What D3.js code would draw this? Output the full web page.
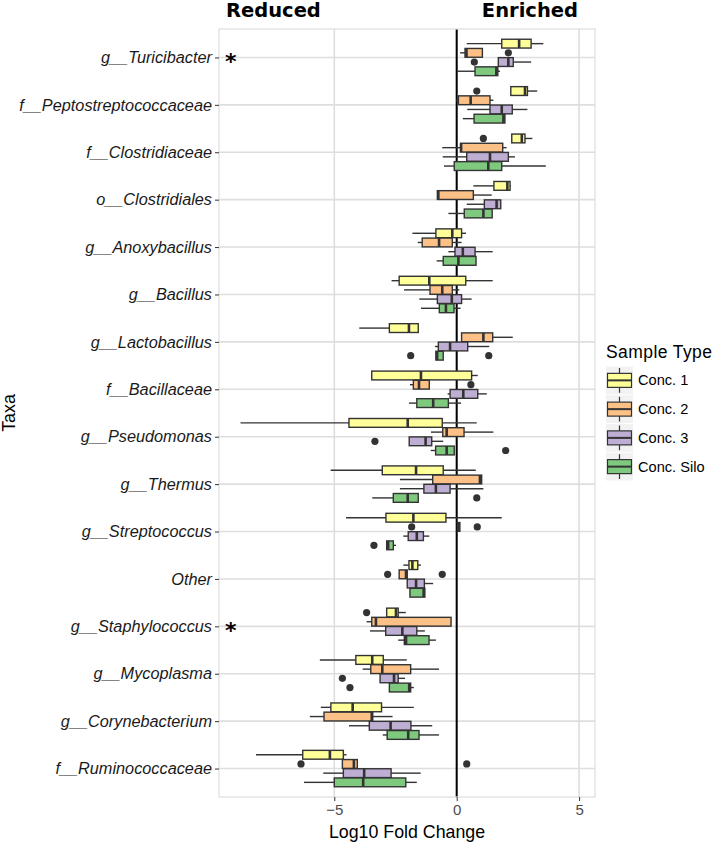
<!DOCTYPE html>
<html>
<head>
<meta charset="utf-8">
<script src="https://cdn.jsdelivr.net/npm/d3@7"></script>
<style>
  html, body { margin: 0; padding: 0; background: #fff; }
  svg { display: block; }
</style>
</head>
<body>
<div id="chart"></div>
<script>
const categories = [
  "g__Turicibacter", "f__Peptostreptococcaceae", "f__Clostridiaceae", "o__Clostridiales",
  "g__Anoxybacillus", "g__Bacillus", "g__Lactobacillus", "f__Bacillaceae",
  "g__Pseudomonas", "g__Thermus", "g__Streptococcus", "Other",
  "g__Staphylococcus", "g__Mycoplasma", "g__Corynebacterium", "f__Ruminococcaceae"
];
const significant = ["g__Turicibacter", "g__Staphylococcus"];
const seriesNames = ["Conc. 1", "Conc. 2", "Conc. 3", "Conc. Silo"];
const seriesColors = ["#FFFF99", "#FDC086", "#BEAED4", "#7FC97F"];
const xTicks = [-5, 0, 5];

// [lower whisker, Q1, median, Q3, upper whisker] per category
const conc1Stats = [
  [0.41, 1.84, 2.55, 3.04, 3.54], [2.21, 2.21, 2.79, 2.89, 3.29], [2.25, 2.25, 2.66, 2.79, 3.09],
  [0.68, 1.52, 2.07, 2.18, 2.22], [-1.81, -0.85, -0.18, 0.20, 0.38], [-2.66, -2.35, -1.12, 0.37, 1.47],
  [-3.98, -2.75, -1.95, -1.57, -1.57], [-3.47, -3.47, -1.46, 0.61, 0.86], [-8.83, -4.40, -2.00, -0.59, 0.82],
  [-5.15, -3.04, -1.66, -0.55, 0.78], [-4.52, -2.89, -1.77, -0.44, 1.84], [-2.18, -1.95, -1.81, -1.59, -1.46],
  [-2.86, -2.86, -2.48, -2.39, -2.08], [-5.59, -4.12, -3.45, -3.00, -2.04], [-5.55, -5.14, -4.25, -3.07, -1.75],
  [-8.20, -6.29, -5.18, -4.63, -4.50]
];
const conc2Stats = [
  [0.14, 0.34, 0.40, 1.05, 1.05], [-0.03, 0.07, 0.57, 1.36, 1.50], [-0.59, 0.16, 0.18, 1.88, 2.04],
  [-0.79, -0.79, -0.75, 0.68, 1.43], [-1.59, -1.41, -0.72, -0.18, 0.20], [-2.15, -1.09, -0.59, -0.18, 0.11],
  [0.19, 0.20, 1.09, 1.47, 2.29], [-1.91, -1.77, -1.54, -1.12, -1.12], [-1.05, -0.57, -0.41, 0.30, 1.50],
  [-2.32, -0.98, 0.95, 1.02, 1.02], [0.03, 0.03, 0.08, 0.13, 0.13], [-2.35, -2.35, -2.07, -2.02, -2.02],
  [-3.68, -3.47, -3.30, -0.23, -0.23], [-3.84, -3.51, -3.04, -1.88, -0.72], [-6.00, -5.42, -3.47, -3.43, -2.62],
  [-4.67, -4.67, -4.20, -4.06, -4.06]
];
const conc3Stats = [
  [1.70, 1.70, 2.11, 2.31, 3.04], [0.43, 1.36, 1.84, 2.27, 2.89], [-0.57, 0.41, 1.36, 2.11, 2.38],
  [0.41, 1.13, 1.63, 1.80, 1.80], [-0.34, -0.07, 0.25, 0.75, 1.47], [-1.53, -0.79, -0.20, 0.20, 0.61],
  [-0.89, -0.75, -0.27, 0.45, 1.33], [-0.37, -0.27, 0.27, 0.86, 1.23], [-1.94, -1.94, -1.27, -1.02, -0.55],
  [-2.32, -1.34, -0.85, -0.27, 1.09], [-2.18, -1.98, -1.63, -1.36, -1.12], [-2.02, -2.02, -1.66, -1.32, -0.96],
  [-3.54, -2.90, -2.22, -1.63, -1.30], [-3.13, -3.13, -2.56, -2.39, -2.11], [-4.40, -3.57, -2.70, -1.87, -1.00],
  [-5.45, -4.63, -3.78, -2.68, -1.47]
];
const concSiloStats = [
  [0.02, 0.75, 1.62, 1.68, 1.77], [0.25, 0.71, 1.91, 1.97, 1.97], [-0.52, -0.10, 1.29, 1.84, 3.64],
  [-0.34, 0.31, 1.09, 1.45, 1.45], [-0.82, -0.55, 0.07, 0.79, 0.79], [-1.46, -0.71, -0.44, -0.11, 0.16],
  [-0.85, -0.85, -0.80, -0.55, -0.55], [-1.95, -1.63, -0.96, -0.34, 0.18], [-1.06, -0.86, -0.41, -0.10, -0.10],
  [-3.45, -2.59, -2.00, -1.57, -1.57], [-2.86, -2.86, -2.80, -2.59, -2.48], [-1.91, -1.91, -1.35, -1.30, -1.30],
  [-2.39, -2.14, -2.07, -1.13, -0.85], [-2.75, -2.75, -1.94, -1.88, -1.75], [-3.02, -2.84, -1.98, -1.54, -0.72],
  [-6.24, -5.00, -3.82, -2.08, -1.63]
];

// outliers: [category, value]
const conc1Outliers = [["f__Peptostreptococcaceae", 0.82], ["f__Clostridiaceae", 1.09], ["g__Staphylococcus", -3.68]];
const conc2Outliers = [["g__Turicibacter", 2.11], ["f__Bacillaceae", 0.58], ["g__Streptococcus", -1.84],
  ["g__Streptococcus", 0.84], ["Other", -2.82], ["Other", -0.59], ["f__Ruminococcaceae", -6.36], ["f__Ruminococcaceae", 0.41]];
const conc3Outliers = [["g__Turicibacter", 0.72], ["g__Pseudomonas", -3.34], ["g__Mycoplasma", -4.67]];
const concSiloOutliers = [["g__Lactobacillus", -1.88], ["g__Lactobacillus", 1.31], ["g__Pseudomonas", 2.00],
  ["g__Thermus", 0.82], ["g__Streptococcus", -3.38], ["g__Mycoplasma", -4.36]];

const allStats = [conc1Stats, conc2Stats, conc3Stats, concSiloStats];
const allOutliers = [conc1Outliers, conc2Outliers, conc3Outliers, concSiloOutliers];

const W = 714, H = 843;
const panel = { left: 219, right: 595, top: 29, bottom: 797 };
const font = "'Liberation Sans', Arial, Helvetica, sans-serif";
const gridCol = "#DEDEDE";
const darkCol = "#333333";

const svg = d3.select("#chart").append("svg").attr("width", W).attr("height", H)
  .style("font-family", font);

const x = d3.scaleLinear().domain([-9.71, 5.65]).range([panel.left, panel.right]);
const y = d3.scalePoint().domain(categories).range([panel.top, panel.bottom]).padding(0.6);
const dodge = d3.scaleBand().domain(seriesNames).range([-18.4, 18.4]).padding(0);
const boxH = 8.8;

// panel background / grid
svg.append("rect").attr("x", panel.left).attr("y", panel.top)
  .attr("width", panel.right - panel.left).attr("height", panel.bottom - panel.top)
  .attr("fill", "#fff");
const grid = svg.append("g");
grid.selectAll("line.h").data(categories).join("line")
  .attr("x1", panel.left).attr("x2", panel.right)
  .attr("y1", d => y(d)).attr("y2", d => y(d))
  .attr("stroke", gridCol).attr("stroke-width", 1.6);
grid.selectAll("line.v").data(xTicks).join("line")
  .attr("y1", panel.top).attr("y2", panel.bottom)
  .attr("x1", d => x(d)).attr("x2", d => x(d))
  .attr("stroke", gridCol).attr("stroke-width", 1.6);

// zero line
svg.append("line").attr("x1", x(0)).attr("x2", x(0))
  .attr("y1", panel.top).attr("y2", panel.bottom)
  .attr("stroke", "#000").attr("stroke-width", 2);

// boxes
seriesNames.forEach((s, si) => {
  const g = svg.append("g");
  const stats = allStats[si];
  categories.forEach((c, ci) => {
    const [wl, q1, med, q3, wh] = stats[ci];
    const cy = y(c) + dodge(s) + dodge.bandwidth() / 2;
    g.append("line").attr("x1", x(wl)).attr("x2", x(q1)).attr("y1", cy).attr("y2", cy)
      .attr("stroke", darkCol).attr("stroke-width", 1.4);
    g.append("line").attr("x1", x(q3)).attr("x2", x(wh)).attr("y1", cy).attr("y2", cy)
      .attr("stroke", darkCol).attr("stroke-width", 1.4);
    g.append("rect").attr("x", x(q1)).attr("y", cy - boxH / 2)
      .attr("width", Math.max(0.5, x(q3) - x(q1))).attr("height", boxH)
      .attr("fill", seriesColors[si]).attr("stroke", darkCol).attr("stroke-width", 1.4);
    g.append("line").attr("x1", x(med)).attr("x2", x(med))
      .attr("y1", cy - boxH / 2).attr("y2", cy + boxH / 2)
      .attr("stroke", darkCol).attr("stroke-width", 2.6);
  });
  g.selectAll("circle").data(allOutliers[si]).join("circle")
    .attr("cx", d => x(d[1]))
    .attr("cy", d => y(d[0]) + dodge(s) + dodge.bandwidth() / 2)
    .attr("r", 3.6).attr("fill", darkCol);
});

// panel border
svg.append("rect").attr("x", panel.left).attr("y", panel.top)
  .attr("width", panel.right - panel.left).attr("height", panel.bottom - panel.top)
  .attr("fill", "none").attr("stroke", gridCol).attr("stroke-width", 1.2);

// asterisks
svg.append("g").selectAll("text").data(significant).join("text")
  .attr("x", 225).attr("y", d => y(d) + 12)
  .attr("font-size", 22).attr("font-weight", "bold").attr("fill", "#000")
  .attr("font-family", "'DejaVu Sans', sans-serif")
  .text("*");

// y axis
const yAxis = svg.append("g").attr("transform", `translate(${panel.left},0)`)
  .call(d3.axisLeft(y).tickSize(4).tickPadding(3));
yAxis.select(".domain").remove();
yAxis.selectAll(".tick line").attr("stroke", darkCol).attr("stroke-width", 1);
yAxis.selectAll(".tick text").attr("font-size", 16.3).attr("font-style", "italic")
  .attr("fill", "#1a1a1a").attr("font-family", font);

// x axis
const xAxis = svg.append("g").attr("transform", `translate(0,${panel.bottom})`)
  .call(d3.axisBottom(x).tickValues(xTicks).tickSize(4).tickPadding(3).tickFormat(d => d < 0 ? "\u2212" + Math.abs(d) : d));
xAxis.select(".domain").remove();
xAxis.selectAll(".tick line").attr("stroke", darkCol);
xAxis.selectAll(".tick text").attr("font-size", 15).attr("fill", "#4d4d4d").attr("font-family", font);

// axis titles
svg.append("text").attr("x", (panel.left + panel.right) / 2).attr("y", 838)
  .attr("text-anchor", "middle").attr("font-size", 17.8).attr("fill", "#000").text("Log10 Fold Change");
svg.append("text").attr("transform", `translate(15,${(panel.top + panel.bottom) / 2}) rotate(-90)`)
  .attr("text-anchor", "middle").attr("font-size", 17.8).attr("fill", "#000").text("Taxa");

// Reduced / Enriched
svg.append("text").attr("x", 226).attr("y", 17).attr("font-size", 19.5).attr("font-weight", "bold")
  .attr("font-family", "'DejaVu Sans', sans-serif").text("Reduced");
svg.append("text").attr("x", 578).attr("y", 17).attr("text-anchor", "end").attr("font-size", 19.5).attr("font-weight", "bold")
  .attr("font-family", "'DejaVu Sans', sans-serif").text("Enriched");

// legend
const leg = svg.append("g");
leg.append("text").attr("x", 606).attr("y", 358).attr("font-size", 17.5).attr("fill", "#000")
  .attr("textLength", 106).attr("lengthAdjust", "spacing").text("Sample Type");
const keyY = d3.scaleBand().domain(seriesNames).range([366, 481]).padding(0);
seriesNames.forEach((s, i) => {
  const ky = keyY(s), kh = keyY.bandwidth();
  const cy = ky + kh / 2;
  leg.append("rect").attr("x", 606).attr("y", ky + 0.5).attr("width", 27).attr("height", kh - 1)
    .attr("fill", "#F2F2F2");
  leg.append("line").attr("x1", 619.5).attr("x2", 619.5).attr("y1", ky + 2).attr("y2", ky + kh - 2)
    .attr("stroke", darkCol).attr("stroke-width", 1.2);
  leg.append("rect").attr("x", 607.5).attr("y", cy - 7).attr("width", 24).attr("height", 14)
    .attr("fill", seriesColors[i]).attr("stroke", darkCol).attr("stroke-width", 1.2);
  leg.append("line").attr("x1", 607.5).attr("x2", 631.5).attr("y1", cy).attr("y2", cy)
    .attr("stroke", darkCol).attr("stroke-width", 2);
  leg.append("text").attr("x", 638).attr("y", cy + 5).attr("font-size", 14.6).attr("fill", "#000").text(s);
});
</script>
</body>
</html>
